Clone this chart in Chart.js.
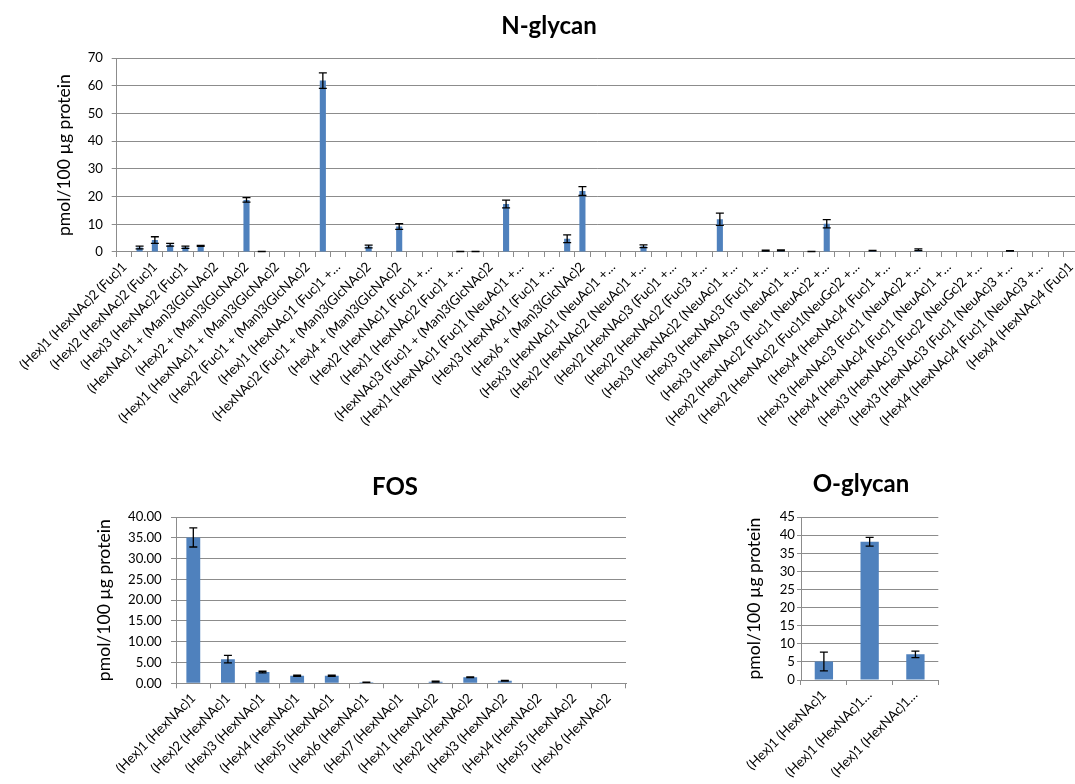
<!DOCTYPE html>
<html><head><meta charset="utf-8">
<script src="https://cdn.jsdelivr.net/npm/chart.js@4.4.1/dist/chart.umd.min.js"></script>
<style>
html,body{margin:0;padding:0;background:#fff;width:1075px;height:784px;overflow:hidden;position:relative}
canvas{position:absolute}
</style></head><body>
<canvas id="c1" width="1098" height="460" style="left:0;top:0;width:1098px;height:460px"></canvas>
<canvas id="c2" width="790" height="324" style="left:0;top:460px;width:790px;height:324px"></canvas>
<canvas id="c3" width="322" height="324" style="left:700px;top:460px;width:322px;height:324px"></canvas>
<script>
// ---------- N-glycan data (63 categories; every second label is shown) ----------
const nShownLabels = [
  "(Hex)1 (HexNAc)2 (Fuc)1",
  "(Hex)2 (HexNAc)2 (Fuc)1",
  "(Hex)3 (HexNAc)2 (Fuc)1",
  "(HexNAc)1 + (Man)3(GlcNAc)2",
  "(Hex)2 + (Man)3(GlcNAc)2",
  "(Hex)1 (HexNAc)1 + (Man)3(GlcNAc)2",
  "(Hex)2 (Fuc)1 + (Man)3(GlcNAc)2",
  "(Hex)1 (HexNAc)1 (Fuc)1 +…",
  "(HexNAc)2 (Fuc)1 + (Man)3(GlcNAc)2",
  "(Hex)4 + (Man)3(GlcNAc)2",
  "(Hex)2 (HexNAc)1 (Fuc)1 +…",
  "(Hex)1 (HexNAc)2 (Fuc)1 +…",
  "(HexNAc)3 (Fuc)1 + (Man)3(GlcNAc)2",
  "(Hex)1 (HexNAc)1 (Fuc)1 (NeuAc)1 +…",
  "(Hex)3 (HexNAc)1 (Fuc)1 +…",
  "(Hex)6 + (Man)3(GlcNAc)2",
  "(Hex)3 (HexNAc)1 (NeuAc)1 +…",
  "(Hex)2 (HexNAc)2 (NeuAc)1 +…",
  "(Hex)2 (HexNAc)3 (Fuc)1 +…",
  "(Hex)2 (HexNAc)2 (Fuc)3 +…",
  "(Hex)3 (HexNAc)2 (NeuAc)1 +…",
  "(Hex)3 (HexNAc)3 (Fuc)1 +…",
  "(Hex)3 (HexNAc)3  (NeuAc)1 +…",
  "(Hex)2 (HexNAc)2 (Fuc)1 (NeuAc)2 +…",
  "(Hex)2 (HexNAc)2 (Fuc)1(NeuGc)2 +…",
  "(Hex)4 (HexNAc)4 (Fuc)1 +…",
  "(Hex)3 (HexNAc)3 (Fuc)1 (NeuAc)2 +…",
  "(Hex)4 (HexNAc)4 (Fuc)1 (NeuAc)1 +…",
  "(Hex)3 (HexNAc)3 (Fuc)2 (NeuGc)2 +…",
  "(Hex)3 (HexNAc)3 (Fuc)1 (NeuAc)3 +…",
  "(Hex)4 (HexNAc)4 (Fuc)1 (NeuAc)3 +…",
  "(Hex)4 (HexNAc)4 (Fuc)1"
];
const nValues = [
  0, 1.6, 4.3, 2.6, 1.7, 2.2, 0, 0, 18.8, 0.2,
  0, 0, 0, 61.9, 0, 0, 2.0, 0, 9.2, 0,
  0, 0, 0.2, 0.2, 0, 17.3, 0, 0, 0, 4.8,
  22.0, 0, 0, 0, 2.1, 0, 0, 0, 0, 11.8,
  0, 0, 0.5, 0.6, 0, 0.2, 10.2, 0, 0, 0.5,
  0, 0, 0.8, 0, 0, 0, 0, 0, 0.4, 0,
  0, 0, 0
];
const nErrors = [
  0, 0.5, 1.2, 0.5, 0.4, 0.2, 0, 0, 0.8, 0.05,
  0, 0, 0, 2.8, 0, 0, 0.5, 0, 1.0, 0,
  0, 0, 0.05, 0.05, 0, 1.4, 0, 0, 0, 1.4,
  1.6, 0, 0, 0, 0.5, 0, 0, 0, 0, 2.2,
  0, 0, 0.2, 0.15, 0, 0.05, 1.5, 0, 0, 0.1,
  0, 0, 0.3, 0, 0, 0, 0, 0, 0.1, 0,
  0, 0, 0
];
const nYMax = 70, nYStep = 10;

// ---------- FOS data ----------
const fosCategories = [
  "(Hex)1 (HexNAc)1", "(Hex)2 (HexNAc)1", "(Hex)3 (HexNAc)1", "(Hex)4 (HexNAc)1",
  "(Hex)5 (HexNAc)1", "(Hex)6 (HexNAc)1", "(Hex)7 (HexNAc)1", "(Hex)1 (HexNAc)2",
  "(Hex)2 (HexNAc)2", "(Hex)3 (HexNAc)2", "(Hex)4 (HexNAc)2", "(Hex)5 (HexNAc)2",
  "(Hex)6 (HexNAc)2"
];
const fosValues = [35.1, 5.8, 2.7, 1.8, 1.8, 0.25, 0, 0.4, 1.45, 0.6, 0, 0, 0];
const fosErrors = [2.3, 0.9, 0.2, 0.15, 0.15, 0.05, 0, 0.1, 0.1, 0.08, 0, 0, 0];
const fosYMax = 40, fosYStep = 5;

// ---------- O-glycan data ----------
const oCategories = ["(Hex)1 (HexNAc)1", "(Hex)1 (HexNAc)1…", "(Hex)1 (HexNAc)1…"];
const oValues = [5.1, 38.2, 7.1];
const oErrors = [2.6, 1.2, 0.9];
const oYMax = 45, oYStep = 5;

const yTitle = "pmol/100 µg protein";

// ---------- rendering ----------
const FONT = 'Lato, "Open Sans", sans-serif';
const GRID = '#8c8c8c';
const BAR = '#4F81BD';

const errorBarPlugin = {
  id: 'errorBars',
  afterDatasetsDraw(chart) {
    const ctx = chart.ctx, ys = chart.scales.y;
    chart.data.datasets.forEach((ds, di) => {
      if (!ds.errors) return;
      const meta = chart.getDatasetMeta(di);
      meta.data.forEach((bar, i) => {
        const v = ds.data[i], e = ds.errors[i];
        if (!e) return;
        const yt = ys.getPixelForValue(v + e);
        const yb = ys.getPixelForValue(Math.max(v - e, 0));
        const x = bar.x, hw = 4;
        ctx.save();
        ctx.strokeStyle = '#000';
        ctx.lineWidth = 1.3;
        ctx.beginPath();
        ctx.moveTo(x, yt); ctx.lineTo(x, yb);
        ctx.moveTo(x - hw, yt); ctx.lineTo(x + hw, yt);
        ctx.moveTo(x - hw, yb); ctx.lineTo(x + hw, yb);
        ctx.stroke();
        ctx.restore();
      });
    });
  }
};

function makeChart(id, o) {
  return new Chart(document.getElementById(id), {
    type: 'bar',
    data: {
      labels: o.labels,
      datasets: [{
        data: o.values, errors: o.errors, yAxisID: 'y',
        backgroundColor: BAR, borderWidth: 0,
        barPercentage: 0.4, categoryPercentage: 1.0
      }]
    },
    options: {
      responsive: false, animation: false, devicePixelRatio: 1,
      layout: { padding: 0 },
      plugins: {
        legend: { display: false }, tooltip: { enabled: false },
        title: {
          display: true, text: o.title, color: '#000',
          font: { family: FONT, size: 24, weight: 'bold' },
          padding: { top: o.titleTop, bottom: o.titleBottom }
        }
      },
      scales: {
        x: {
          grid: { offset: true, drawOnChartArea: false, drawTicks: true, tickLength: 5, color: GRID },
          border: { color: GRID, width: 1 },
          ticks: {
            autoSkip: false, maxRotation: 45, minRotation: 45, padding: 2,
            color: '#000', font: { family: FONT, size: 13.4 }
          },
          afterFit: s => { s.height = o.xHeight; }
        },
        y: {
          position: 'left',
          min: 0, max: o.yMax,
          grid: { color: GRID, tickLength: o.yTick, drawTicks: true },
          border: { color: GRID, width: 1 },
          ticks: {
            stepSize: o.yStep, padding: o.yPad, color: '#000', autoSkip: false,
            font: { family: FONT, size: 13.2 },
            callback: v => o.decimals ? v.toFixed(o.decimals) : v
          },
          title: {
            display: true, text: yTitle, color: '#000',
            font: { family: FONT, size: 17.6 },
            padding: { top: o.yTitlePad, bottom: 0 }
          },
          afterFit: s => { s.width = o.yWidth; }
        },
        spacer: {
          type: 'linear', position: 'right', display: true,
          grid: { display: false, drawOnChartArea: false },
          border: { display: false },
          ticks: { display: false },
          afterFit: s => { s.width = o.padRight; }
        }
      }
    },
    plugins: [errorBarPlugin]
  });
}

const nCategories = [];
for (let i = 0; i < nValues.length; i++) {
  nCategories.push(i % 2 === 0 ? nShownLabels[i / 2] : '');
}

makeChart('c1', {
  title: 'N-glycan', labels: nCategories, values: nValues, errors: nErrors,
  yMax: nYMax, yStep: nYStep, decimals: 0,
  padRight: 19.3, titleTop: 12, titleBottom: 17.3, xHeight: 208,
  yWidth: 116.7, yTick: 5, yPad: 8.7, yTitlePad: 53.9
});
makeChart('c2', {
  title: 'FOS', labels: fosCategories, values: fosValues, errors: fosErrors,
  yMax: fosYMax, yStep: fosYStep, decimals: 2,
  padRight: 164, titleTop: 13, titleBottom: 15.3, xHeight: 100.7,
  yWidth: 176, yTick: 5, yPad: 9.3, yTitlePad: 93.9
});
makeChart('c3', {
  title: 'O-glycan', labels: oCategories, values: oValues, errors: oErrors,
  yMax: oYMax, yStep: oYStep, decimals: 0,
  padRight: 83.7, titleTop: 10, titleBottom: 18.3, xHeight: 104,
  yWidth: 101, yTick: 4, yPad: 2, yTitlePad: 43.9
});
</script>
</body></html>
